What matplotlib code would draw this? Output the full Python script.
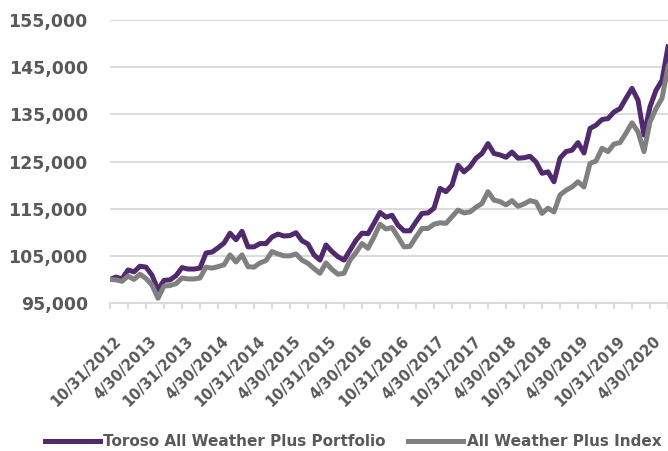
import matplotlib
matplotlib.use('Agg')
import matplotlib.pyplot as plt
import matplotlib.transforms as mtransforms
from matplotlib.ticker import FixedLocator, FuncFormatter
from matplotlib.lines import Line2D
import pandas as pd

# month-end dates, 10/31/2012 .. 7/31/2020
dates = pd.date_range('2012-10-31', '2020-07-31', freq='ME')

portfolio = [
    100000, 100500, 100100,
    102000, 101600, 102800, 102600, 100900, 97800, 99800, 99900, 100800, 102500, 102200, 102200,
    102400, 105600, 105800, 106700, 107700, 109800, 108400, 110200, 106900, 106900, 107600, 107600,
    109000, 109600, 109200, 109300, 109900, 108200, 107500, 105200, 104100, 107300, 105900, 104800,
    104100, 106200, 108300, 109800, 109700, 111900, 114200, 113200, 113600, 111500, 110300, 110300,
    112200, 114000, 114100, 115100, 119300, 118600, 120000, 124200, 122800, 123900, 125700, 126700,
    128800, 126700, 126400, 125900, 127000, 125700, 125800, 126100, 124900, 122500, 122800, 120700,
    125700, 127100, 127400, 129000, 126800, 132000, 132700, 133900, 134100, 135500, 136200, 138400,
    140500, 138000, 130600, 136600, 140100, 142200, 149300,
]

index = [
    100000, 99900, 99600,
    100700, 100000, 101100, 100200, 98800, 96000, 98600, 98700, 99100, 100300, 100100, 100100,
    100300, 102600, 102400, 102700, 103100, 105200, 103700, 105200, 102700, 102600, 103500, 104000,
    105900, 105400, 105000, 105000, 105400, 104100, 103400, 102300, 101300, 103500, 102100, 101100,
    101300, 104100, 105700, 107600, 106600, 109000, 111700, 110700, 111000, 109000, 106900, 107000,
    109000, 110800, 110800, 111700, 112000, 111900, 113300, 114700, 114100, 114300, 115300, 116100,
    118600, 116800, 116500, 115800, 116700, 115500, 116000, 116700, 116400, 114000, 115100, 114300,
    117900, 118900, 119600, 120700, 119600, 124600, 125100, 127800, 127100, 128700, 129000, 131000,
    133200, 131300, 127100, 133400, 136200, 138400, 145000,
]

y_ticks = [95000, 105000, 115000, 125000, 135000, 145000, 155000]
series_names = ['Toroso All Weather Plus Portfolio', 'All Weather Plus Index']
purple = '#512A6E'
grey = '#808080'
txt = '#595959'
gridc = '#D9D9D9'

labels = [f'{d.month}/{d.day}/{d.year}' for d in dates]
x = list(range(len(dates)))

fig = plt.figure(figsize=(6.68, 4.51), dpi=100)
ax = fig.add_axes([110 / 668, 148 / 451, 558 / 668, 283 / 451])

ax.plot(x, portfolio, color=purple, lw=3.6, solid_joinstyle='round', zorder=3)
ax.plot(x, index, color=grey, lw=3.6, solid_joinstyle='round', zorder=4)

ax.set_xlim(0, len(x) - 1)
ax.set_ylim(95000, 155000)
ax.set_yticks(y_ticks)
ax.yaxis.set_major_formatter(FuncFormatter(lambda v, p: f'{int(v):,}'))
ax.yaxis.grid(True, color=gridc, lw=1.3)
ax.set_axisbelow(True)

for s in ['left', 'top', 'right']:
    ax.spines[s].set_visible(False)
ax.spines['bottom'].set_color(gridc)
ax.spines['bottom'].set_linewidth(1.3)

major = list(range(0, len(x), 6))
ax.xaxis.set_major_locator(FixedLocator(major))
ax.xaxis.set_minor_locator(FixedLocator([i for i in range(0, len(x), 3) if i % 6]))
ax.set_xticklabels([labels[i] for i in major])

ax.tick_params(axis='y', length=0, pad=16, labelsize=12.5, labelcolor=txt)
ax.tick_params(axis='x', which='both', length=4, width=1.3, color=gridc, direction='out')
ax.tick_params(axis='x', pad=18, labelsize=10.5, labelcolor=txt)
for t in ax.get_yticklabels():
    t.set_fontweight('bold')
offset = mtransforms.ScaledTranslation(3 / 100, 0, fig.dpi_scale_trans)
for t in ax.get_xticklabels():
    t.set_fontweight('bold')
    t.set_rotation(45)
    t.set_ha('right')
    t.set_va('top')
    t.set_rotation_mode('anchor')
    t.set_transform(t.get_transform() + offset)

handles = [Line2D([], [], color=purple, lw=3.6), Line2D([], [], color=grey, lw=3.6)]
fig.legend(handles, series_names, loc='center left', bbox_to_anchor=(45 / 668, 9 / 451),
           ncol=2, frameon=False, borderpad=0, borderaxespad=0,
           handlelength=3.6, handletextpad=0.2, columnspacing=1.5,
           prop={'weight': 'bold', 'size': 11}, labelcolor=txt)

fig.savefig('out.png', dpi=100)
